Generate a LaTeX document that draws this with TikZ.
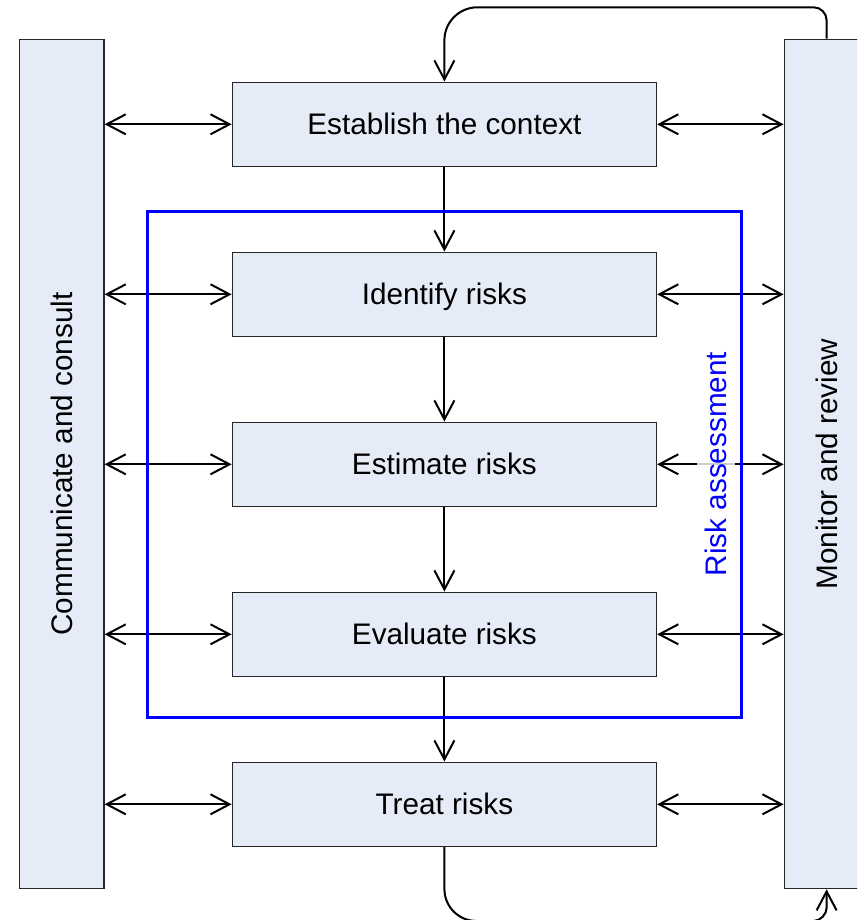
\documentclass[tikz,border=0pt]{standalone}
\usepackage{fontspec}
\setmainfont{Liberation Sans}
\usetikzlibrary{arrows.meta}
\definecolor{boxfill}{RGB}{230,236,247}
\definecolor{rablue}{RGB}{0,0,255}
\begin{document}
\begin{tikzpicture}[x=1pt,y=-1pt,
  txt/.style={font=\fontsize{29.7}{36}\selectfont, text height=21.3pt, text depth=0pt},
  stepbox/.style={draw=black!85, line width=1.5pt, fill=boxfill, minimum width=424pt, minimum height=84pt, inner sep=0pt, txt},
  bar/.style={draw=black!85, line width=1.5pt, fill=boxfill, minimum width=84.5pt, minimum height=849pt, inner sep=0pt},
  tip/.style={Straight Barb[length=19pt,width=20pt]},
  arr/.style={line width=2pt, -{Straight Barb[length=19pt,width=20pt]}},
  darr/.style={line width=2pt, {Straight Barb[length=19pt,width=20pt]}-{Straight Barb[length=19pt,width=20pt]}},
  frame/.style={draw=rablue, line width=3pt},
]
\useasboundingbox (0,0) rectangle (857,920);
\clip (0,0) rectangle (857,920);

% side bars
\node[bar] (com) at (61.6,464) {};
\node[txt, rotate=90, inner sep=0pt] (comt) at (com) {Communicate and consult};
\node[bar] (mon) at (826.6,464) {};
\node[txt, rotate=90, inner sep=0pt] (mont) at (mon) {Monitor and review};

% process boxes
\node[stepbox] (ctx) at (444.4,124.3) {Establish the context};
\node[stepbox] (idf) at (444.4,294.3) {Identify risks};
\node[stepbox] (est) at (444.4,464.3) {Estimate risks};
\node[stepbox] (evl) at (444.4,634.3) {Evaluate risks};
\node[stepbox] (trt) at (444.4,804.3) {Treat risks};

% vertical flow
\draw[arr] (ctx) -- (idf);
\draw[arr] (idf) -- (est);
\draw[arr] (est) -- (evl);
\draw[arr] (evl) -- (trt);

% horizontal links
\foreach \b in {ctx,idf,est,evl,trt}{
  \draw[darr] (com.east |- \b) -- (\b.west);
  \draw[darr] (\b.east) -- (mon.west |- \b);
}

% top loop
\draw[arr] (mon.north) -- (826.6,20.3) .. controls (826.6,13.1) and (820.8,7.3) .. (813.6,7.3)
  -- (477.4,7.3) .. controls (459.2,7.3) and (444.4,22.1) .. (444.4,40.3) -- (ctx.north);

% bottom loop
\draw[arr] (trt.south) -- (444.4,889) .. controls (444.4,906.7) and (458.7,921) .. (476.4,921)
  -- (813.6,921) .. controls (820.8,921) and (826.6,913.8) .. (826.6,908) -- (mon.south);

% risk assessment label and frame
\node[txt, text=rablue, rotate=90, fill=white, fill opacity=0.8, text opacity=1, inner sep=8pt] (rat) at (716,464) {Risk assessment};
\node[frame, minimum width=593.5pt, minimum height=505.5pt, inner sep=0pt] (ra) at (444.25,464.25) {};
\end{tikzpicture}
\end{document}
